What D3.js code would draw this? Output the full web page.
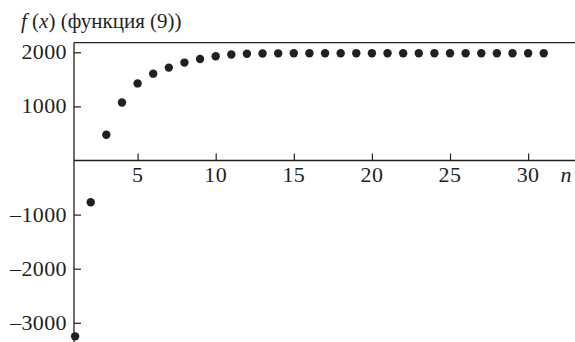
<!DOCTYPE html>
<html>
<head>
  <meta charset="utf-8">
  <script src="https://d3js.org/d3.v7.min.js"></script>
  <style>
    body { margin: 0; background: #fff; }
  </style>
</head>
<body>
  <div id="chart"></div>

  <script>
    // n = 1..31
    var nValues = d3.range(1, 32);
    var fValues = [-3250, -773, 475, 1071, 1425, 1605, 1717, 1810, 1877, 1927,
                   1959, 1972, 1978, 1981, 1982, 1983, 1983, 1983, 1983, 1983,
                   1983, 1983, 1983, 1983, 1983, 1983, 1983, 1983, 1983, 1983, 1983];
    var xTicks = [5, 10, 15, 20, 25, 30];
    var yTicks = [-3000, -2000, -1000, 1000, 2000];

    var width = 575;
    var height = 342;
    var ink = "#231f20";
    var serif = "Liberation Serif";

    var x = d3.scaleLinear().domain([0.93, 33]).range([74, 575]);
    var y = d3.scaleLinear().domain([0, 2000]).range([160.5, 52.3]);

    var svg = d3.select("#chart")
      .append("svg")
      .attr("width", width)
      .attr("height", height);

    // frame: top line and left axis
    svg.append("line")
      .attr("x1", x(0.93)).attr("x2", width)
      .attr("y1", y(2180)).attr("y2", y(2180))
      .attr("stroke", ink).attr("stroke-width", 1.3);

    var yAxis = d3.axisRight(y)
      .tickValues(yTicks)
      .tickSize(7)
      .tickFormat("");
    svg.append("g")
      .attr("transform", "translate(" + x(0.93) + ",0)")
      .call(yAxis)
      .call(function(g) {
        g.select(".domain").remove();
        g.selectAll(".tick line").attr("stroke", ink).attr("stroke-width", 1.2);
      });

    svg.append("line")
      .attr("x1", x(0.93)).attr("x2", x(0.93))
      .attr("y1", y(2180)).attr("y2", height)
      .attr("stroke", ink).attr("stroke-width", 1.3);

    // y tick labels
    svg.selectAll(".ylab")
      .data(yTicks)
      .enter()
      .append("text")
      .attr("class", "ylab")
      .attr("x", 67)
      .attr("y", function(d) { return y(d) + 7; })
      .attr("text-anchor", "end")
      .attr("font-family", serif)
      .attr("font-size", 22)
      .attr("letter-spacing", 0.4)
      .attr("fill", ink)
      .text(function(d) { return d < 0 ? "\u2013" + Math.abs(d) : d; });

    // x axis at zero
    var xAxis = d3.axisTop(x)
      .tickValues(xTicks)
      .tickSize(7)
      .tickFormat("");
    svg.append("g")
      .attr("transform", "translate(0," + y(0) + ")")
      .call(xAxis)
      .call(function(g) {
        g.select(".domain").remove();
        g.selectAll(".tick line").attr("stroke", ink).attr("stroke-width", 1.2);
      });

    svg.append("line")
      .attr("x1", x(0.93)).attr("x2", width)
      .attr("y1", y(0)).attr("y2", y(0))
      .attr("stroke", ink).attr("stroke-width", 1.3);

    svg.selectAll(".xlab")
      .data(xTicks)
      .enter()
      .append("text")
      .attr("class", "xlab")
      .attr("x", function(d) { return x(d); })
      .attr("y", y(0) + 21)
      .attr("text-anchor", "middle")
      .attr("font-family", serif)
      .attr("font-size", 22)
      .attr("letter-spacing", 0.4)
      .attr("fill", ink)
      .text(function(d) { return d; });

    svg.append("text")
      .attr("x", 566)
      .attr("y", y(0) + 21)
      .attr("text-anchor", "middle")
      .attr("font-family", serif)
      .attr("font-size", 22)
      .attr("font-style", "italic")
      .attr("fill", ink)
      .text("n");

    // title
    var title = svg.append("text")
      .attr("x", 21)
      .attr("y", 28)
      .attr("font-family", serif)
      .attr("font-size", 21)
      .attr("fill", ink);
    title.append("tspan").attr("font-style", "italic").text("f");
    title.append("tspan").text(" (");
    title.append("tspan").attr("font-style", "italic").text("x");
    title.append("tspan").text(") (функция (9))");

    // points
    svg.selectAll("circle")
      .data(nValues)
      .enter()
      .append("circle")
      .attr("cx", function(d) { return x(d); })
      .attr("cy", function(d, i) { return y(fValues[i]); })
      .attr("r", 4.2)
      .attr("fill", ink);
  </script>
</body>
</html>
